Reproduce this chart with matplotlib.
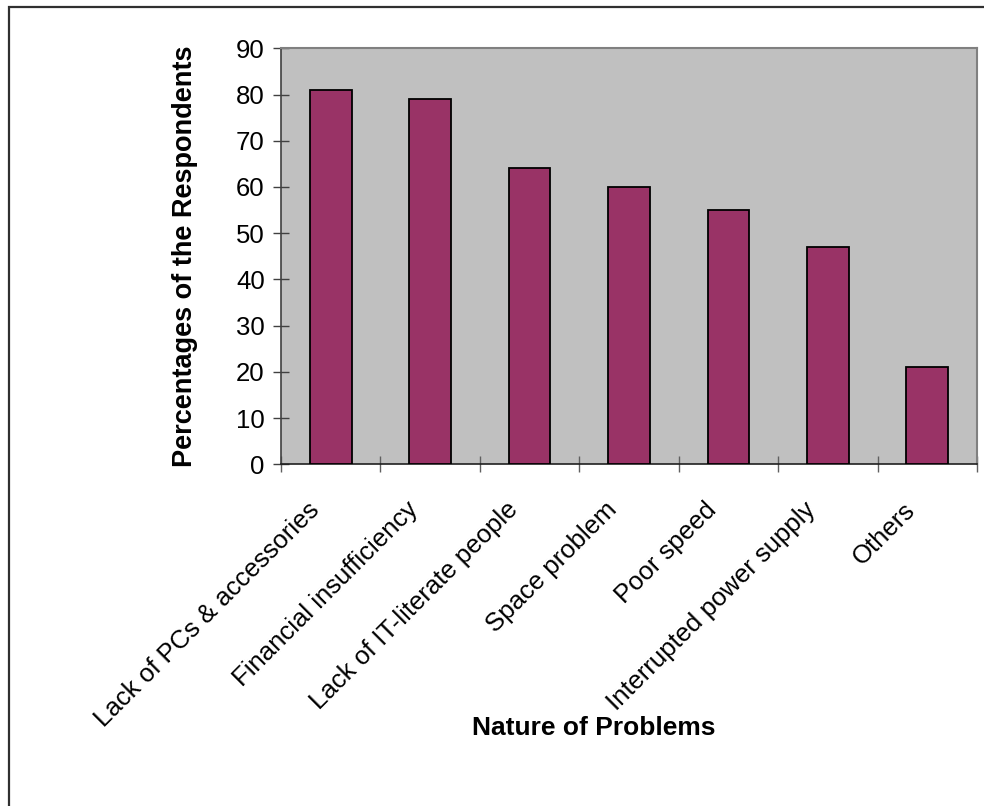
import matplotlib
matplotlib.use("Agg")
import matplotlib.pyplot as plt
from matplotlib.patches import Rectangle
from matplotlib.transforms import ScaledTranslation
import numpy as np

categories = [
    "Lack of PCs & accessories",
    "Financial insufficiency",
    "Lack of IT-literate people",
    "Space problem",
    "Poor speed",
    "Interrupted power supply",
    "Others",
]
percentages = [81, 79, 64, 60, 55, 47, 21]
y_ticks = [0, 10, 20, 30, 40, 50, 60, 70, 80, 90]

plt.rcParams["font.family"] = ["Liberation Sans", "DejaVu Sans"]

W, H = 984, 806
fig = plt.figure(figsize=(W / 100, H / 100), dpi=100)
fig.patch.set_facecolor("white")

# outer chart frame (top and left edges visible)
fig.patches.append(Rectangle((8.5 / W, -0.1), 1.2, 1.1 - 6.5 / H,
                             transform=fig.transFigure, fill=False,
                             edgecolor="#303030", linewidth=1.6, zorder=0))

ax = fig.add_axes([281 / W, 1 - 464.3 / H, (977 - 281) / W, (464.3 - 48.3) / H])
ax.set_facecolor("#C0C0C0")

x = np.arange(len(categories))
ax.bar(x, percentages, width=0.42, color="#993366", edgecolor="black",
       linewidth=1.3, zorder=3)

ax.set_xlim(-0.5, len(categories) - 0.5)
ax.set_ylim(0, 90)
ax.set_yticks(y_ticks)
ax.set_yticklabels([str(v) for v in y_ticks], fontsize=18.5)
ax.tick_params(axis="y", direction="inout", length=11.5, width=1.0,
               color="#404040", pad=6)

# category labels at bar centres, tick marks at category boundaries
ax.set_xticks(x)
ax.set_xticklabels(categories, fontsize=18.5, rotation=45, ha="right",
                   va="top")
ax.tick_params(axis="x", which="major", length=0, pad=24)
shift = ScaledTranslation(-7 / 100, 0, fig.dpi_scale_trans)
for lbl in ax.get_xticklabels():
    lbl.set_transform(lbl.get_transform() + shift)
ax.set_xticks(np.arange(-0.5, len(categories), 1.0), minor=True)
ax.tick_params(axis="x", which="minor", direction="inout", length=11.5,
               width=1.0, color="#606060")

for side in ("top", "right"):
    ax.spines[side].set_color("#808080")
    ax.spines[side].set_linewidth(1.5)
ax.spines["left"].set_color("#404040")
ax.spines["left"].set_linewidth(1.2)
ax.spines["bottom"].set_color("#202020")
ax.spines["bottom"].set_linewidth(1.2)

fig.text(185 / W, 1 - 256 / H, "Percentages of the Respondents",
         rotation=90, ha="center", va="center", fontsize=19.5, fontweight="bold")
fig.text(594 / W, 1 - 728 / H, "Nature of Problems",
         ha="center", va="center", fontsize=19, fontweight="bold")

fig.savefig("out.png", dpi=100, facecolor="white")
